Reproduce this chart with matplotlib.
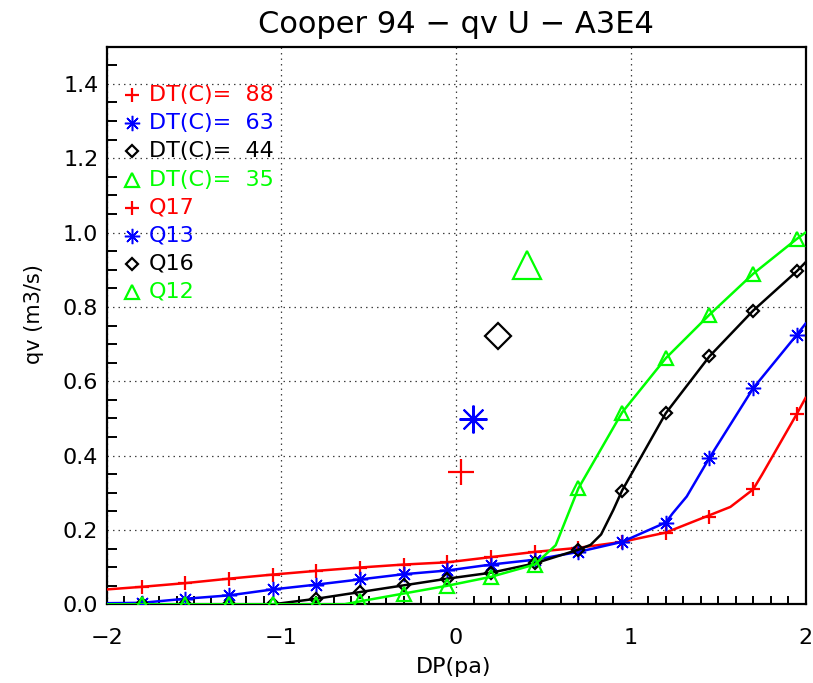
#!/usr/bin/env python3
import matplotlib
matplotlib.use('Agg')
import matplotlib.pyplot as plt
from matplotlib.ticker import MultipleLocator, FormatStrFormatter

# pressure difference where the measured points sit (pa)
dp = [-1.8, -1.55, -1.3, -1.05, -0.8, -0.55, -0.3, -0.05,
      0.2, 0.45, 0.7, 0.95, 1.2, 1.45, 1.7, 1.95]

# flow rate qv (m3/s) at each DT
qv_88 = [0.047, 0.057, 0.069, 0.080, 0.090, 0.099, 0.107, 0.113,
         0.127, 0.141, 0.152, 0.168, 0.193, 0.234, 0.309, 0.512]
qv_63 = [0.004, 0.015, 0.024, 0.040, 0.053, 0.067, 0.081, 0.091,
         0.107, 0.120, 0.141, 0.168, 0.220, 0.394, 0.581, 0.725]
qv_44 = [0.000, 0.000, 0.000, 0.000, 0.015, 0.033, 0.051, 0.069,
         0.085, 0.110, 0.147, 0.306, 0.514, 0.667, 0.790, 0.896]
qv_35 = [0.000, 0.000, 0.000, 0.000, 0.000, 0.008, 0.029, 0.050,
         0.074, 0.107, 0.312, 0.516, 0.662, 0.779, 0.889, 0.983]

# smoothed curves (extra knots where the curves bend)
curve_88_x = [-2.0] + dp[:13] + [1.57, 1.7, 1.75, 1.95, 2.0]
curve_88_y = [0.040] + qv_88[:13] + [0.262, 0.309, 0.348, 0.512, 0.555]
curve_63_x = [-2.0] + dp[:13] + [1.24, 1.32, 1.45, 1.7, 1.95, 2.0]
curve_63_y = [0.003] + qv_63[:13] + [0.245, 0.290, 0.394, 0.581, 0.725, 0.755]
curve_44_x = [-2.0] + dp[:11] + [0.77, 0.83, 0.9] + dp[11:] + [2.0]
curve_44_y = [0.000] + qv_44[:11] + [0.160, 0.188, 0.254] + qv_44[11:] + [0.920]
curve_35_x = [-2.0] + dp[:5] + [-0.64] + dp[5:10] + [0.57] + dp[10:] + [2.0]
curve_35_y = [0.000] + qv_35[:5] + [0.000] + qv_35[5:10] + [0.159] + qv_35[10:] + [1.000]

# single tests Q17, Q13, Q16, Q12
q_dp = [0.03, 0.095, 0.238, 0.403]
q_qv = [0.355, 0.498, 0.723, 0.914]

dt_labels = ['DT(C)=  88', 'DT(C)=  63', 'DT(C)=  44', 'DT(C)=  35']
q_labels = ['Q17', 'Q13', 'Q16', 'Q12']
colors = ['#ff0000', '#0000ff', '#000000', '#00ff00']
ASTER = (8, 2, 0)
markers = ['+', ASTER, 'D', '^']
small_ms = [10, 11, 6.5, 10]
small_mew = [1.6, 1.1, 1.6, 1.6]
big_ms = [19, 20, 13.5, 20]
big_mew = [1.6, 1.5, 1.6, 1.6]


def main():
    plt.rcParams['font.family'] = 'DejaVu Sans'
    fig = plt.figure(figsize=(8.13, 6.83), dpi=100)
    ax = fig.add_axes([0.1312, 0.1152, 0.8596, 0.8164])

    curves = [(curve_88_x, curve_88_y), (curve_63_x, curve_63_y),
              (curve_44_x, curve_44_y), (curve_35_x, curve_35_y)]
    series = [qv_88, qv_63, qv_44, qv_35]

    for i in range(4):
        cx, cy = curves[i]
        ax.plot(cx, cy, color=colors[i], linewidth=1.8, zorder=3 + i)
        ax.plot(dp, series[i], linestyle='none', marker=markers[i],
                markersize=small_ms[i], markeredgewidth=small_mew[i],
                markerfacecolor='none', markeredgecolor=colors[i], zorder=3 + i)

    for i in range(4):
        ax.plot([q_dp[i]], [q_qv[i]], linestyle='none', marker=markers[i],
                markersize=big_ms[i], markeredgewidth=big_mew[i],
                markerfacecolor='none', markeredgecolor=colors[i], zorder=8)

    # legend block written by hand, symbol then coloured text
    labels = dt_labels + q_labels
    for k, lab in enumerate(labels):
        i = k % 4
        yy = 0.913 - k * 0.0504
        ax.plot([0.0358], [yy], transform=ax.transAxes, linestyle='none',
                marker=markers[i], markersize=small_ms[i],
                markeredgewidth=small_mew[i],
                markerfacecolor='none', markeredgecolor=colors[i], clip_on=False)
        ax.text(0.0606, yy, lab, transform=ax.transAxes, color=colors[i],
                fontsize=16, va='center', ha='left')

    ax.set_xlim(-2, 2)
    ax.set_ylim(0, 1.5)
    ax.xaxis.set_major_locator(MultipleLocator(1))
    ax.xaxis.set_minor_locator(MultipleLocator(0.1))
    ax.yaxis.set_major_locator(MultipleLocator(0.2))
    ax.yaxis.set_minor_locator(MultipleLocator(0.05))
    ax.yaxis.set_major_formatter(FormatStrFormatter('%.1f'))

    ax.tick_params(which='major', length=0, labelsize=16)
    ax.tick_params(axis='x', which='major', pad=17)
    ax.tick_params(axis='y', which='major', pad=6)
    ax.tick_params(axis='x', which='minor', direction='in', length=5.5, width=1.4)
    ax.tick_params(axis='y', which='minor', direction='in', length=7, width=1.4)
    ax.grid(True, which='major', color='0.25', linewidth=0.9,
            linestyle=(0, (1.2, 3.2)))
    for sp in ax.spines.values():
        sp.set_linewidth(1.6)

    ax.set_xlabel('DP(pa)', fontsize=16)
    ax.set_ylabel('qv (m3/s)', fontsize=15)
    ax.xaxis.set_label_coords(0.496, -0.0945)
    ax.yaxis.set_label_coords(-0.09, 0.52)
    ax.set_title('Cooper 94 \u2212 qv U \u2212 A3E4', fontsize=22, pad=10)

    fig.savefig('out.png', dpi=100)


if __name__ == '__main__':
    main()
